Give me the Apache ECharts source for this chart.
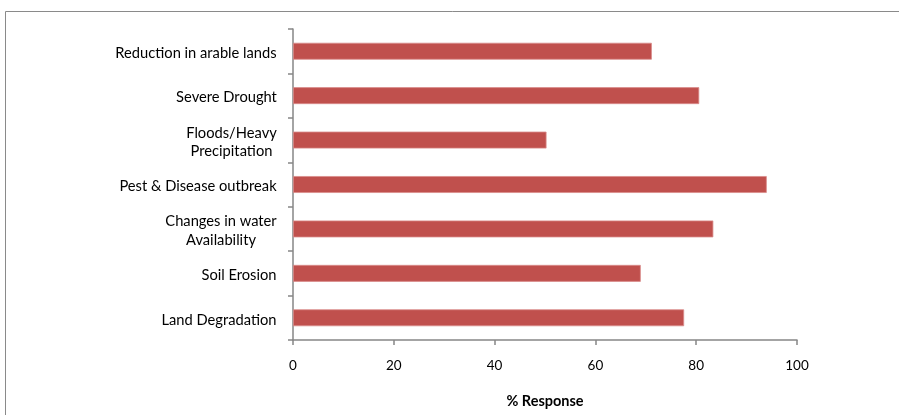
<!DOCTYPE html>
<html>
<head>
<meta charset="utf-8">
<script src="https://cdn.jsdelivr.net/npm/echarts@6/dist/echarts.min.js"></script>
<style>
  html, body { margin: 0; padding: 0; background: #fff; }
  #chart { width: 899px; height: 415px; }
</style>
</head>
<body>
<div id="chart"></div>
<script>
// Climate-related constraints reported by respondents
const categories = [
  'Reduction in arable lands',
  'Severe Drought',
  'Floods/Heavy\nPrecipitation',
  'Pest & Disease outbreak',
  'Changes in water\nAvailability',
  'Soil Erosion',
  'Land Degradation'
];
const responses = [71.2, 80.6, 50.3, 94.0, 83.4, 69.0, 77.6];
const xTicks = [0, 20, 40, 60, 80, 100];

const FONT = 'Lato, "Open Sans", sans-serif';
const CAT_SIZE = 14.7;
const TICK_SIZE = 13.5;
const TITLE_SIZE = 14.5;
const AXIS_GRAY = '#868686';

// Measure label lines so wrapped labels can be centred within their own block
const measureCtx = document.createElement('canvas').getContext('2d');
measureCtx.font = CAT_SIZE + 'px ' + FONT;
function blockWidth(label) {
  return Math.ceil(Math.max.apply(null, label.split('\n').map(l => measureCtx.measureText(l).width)));
}
const rich = {};
categories.forEach((c, i) => {
  rich['c' + i] = { width: blockWidth(c), align: 'center', fontFamily: FONT, fontSize: CAT_SIZE, color: '#000', lineHeight: 18.5 };
});

const chart = echarts.init(document.getElementById('chart'), null, { renderer: 'canvas' });

chart.setOption({
  animation: false,
  backgroundColor: '#ffffff',
  graphic: [{
    type: 'rect',
    shape: { x: 5.5, y: 11.5, width: 1000, height: 500 },
    style: { fill: 'none', stroke: '#8a8a8a', lineWidth: 1 },
    silent: true
  }],
  grid: { left: 293, right: 102, top: 29, bottom: 75, containLabel: false },
  xAxis: {
    type: 'value',
    min: xTicks[0],
    max: xTicks[xTicks.length - 1],
    interval: xTicks[1] - xTicks[0],
    name: '% Response',
    nameLocation: 'middle',
    nameGap: 54,
    nameTextStyle: { fontFamily: FONT, fontSize: TITLE_SIZE, fontWeight: 'bold', color: '#000' },
    axisLine: { show: true, lineStyle: { color: AXIS_GRAY, width: 1.5 } },
    axisTick: { show: true, length: 5, lineStyle: { color: AXIS_GRAY, width: 1.5 } },
    axisLabel: { fontFamily: FONT, fontSize: TICK_SIZE, color: '#000', margin: 19 },
    splitLine: { show: false }
  },
  yAxis: {
    type: 'category',
    inverse: true,
    data: categories,
    axisLine: { show: true, lineStyle: { color: AXIS_GRAY, width: 1.5 } },
    axisTick: { show: true, length: 5, lineStyle: { color: AXIS_GRAY, width: 1.5 } },
    axisLabel: {
      fontFamily: FONT, fontSize: CAT_SIZE, color: '#000', margin: 16,
      lineHeight: 18.5, align: 'right', padding: [4, 0, 0, 0],
      formatter: (value, idx) => value.split('\n').map(l => '{c' + idx + '|' + l + '}').join('\n'),
      rich: rich
    }
  },
  series: [{
    type: 'bar',
    data: responses,
    barCategoryGap: '62%',
    itemStyle: { color: '#C0504D', borderColor: '#d98c8a', borderWidth: 0.8 }
  }]
});
</script>
</body>
</html>
